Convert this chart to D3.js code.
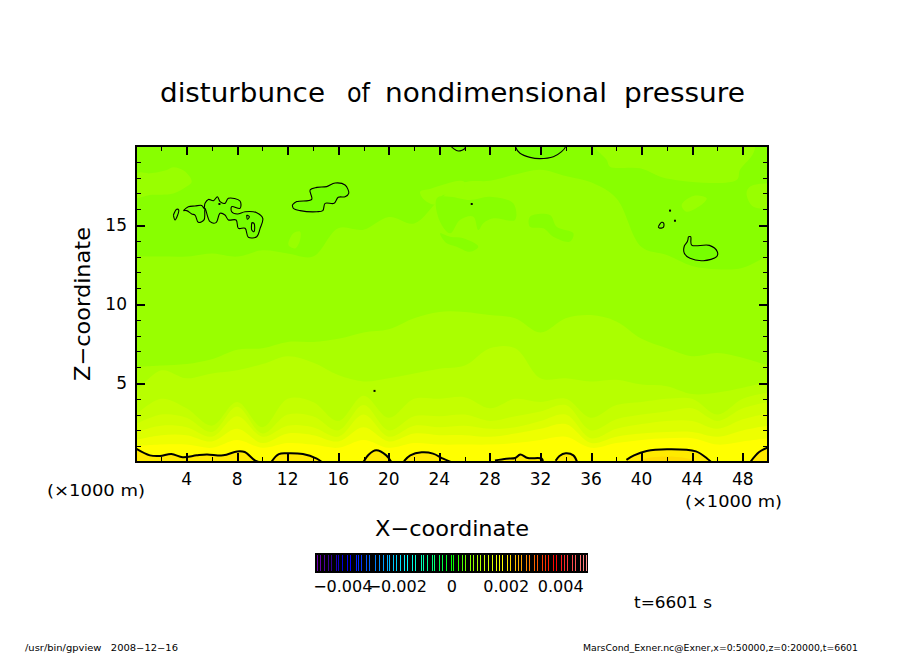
<!DOCTYPE html>
<html><head><meta charset="utf-8">
<script src="https://cdn.jsdelivr.net/npm/d3@7"></script>
<style>html,body{margin:0;padding:0;background:#fff}svg{display:block}text{font-family:"DejaVu Sans",sans-serif;fill:#000}</style>
</head><body><svg id="c" width="904" height="654"></svg>
<script>
// ---- data (x in 1000 m, z in 1000 m) ----
const titleWords = ["disturbunce","of","nondimensional","pressure"];
const xStations = [0,2,4,6,8,10,12,14,16,18,20,22,24,26,28,30,32,34,36,38,40,42,44,46,48,50];
const xMajor = [4,8,12,16,20,24,28,32,36,40,44,48];
const xMinor = [2,6,10,14,18,22,26,30,34,38,42,46,50];
const zMajor = [5,10,15];
const zMinor = [1,2,3,4,6,7,8,9,11,12,13,14,16,17,18,19];
const bandColors = ["#99ff00","#aaff00","#b8ff00","#c4ff00","#d0ff00","#ddff00","#eeff00","#ffff00"];
const band0 = [13.0,13.0,13.0,13.2,13.0,13.4,13.2,13.0,14.8,14.7,15.5,15.1,16.6,17.7,17.8,18.2,18.5,18.1,17.7,16.7,13.6,13.1,12.4,12.2,12.3,13.1];
const band1 = [6.0,6.1,6.2,6.5,7.1,7.2,7.6,7.6,7.8,8.2,8.4,9.1,9.5,9.5,9.3,9.1,8.2,9.1,9.3,8.9,7.8,7.2,6.7,6.9,6.6,6.1];
const band2 = [4.4,5.8,5.3,5.6,5.8,6.2,6.7,6.3,5.5,5.1,5.3,5.6,5.9,6.1,7.2,7.2,5.3,5.3,5.1,5.2,4.9,4.8,4.3,4.4,4.7,5.1];
const band3 = [3.0,4.0,3.4,2.3,3.8,2.2,4.0,3.8,2.6,4.2,2.8,4.0,4.0,4.1,3.4,4.0,3.8,4.0,2.8,3.6,3.8,4.0,4.0,3.0,4.0,4.4];
const band4 = [2.4,3.0,2.8,1.9,3.5,1.8,3.0,2.9,2.0,3.6,2.0,2.9,2.9,3.0,2.6,2.9,3.2,3.6,2.0,2.7,3.0,3.2,3.4,2.6,3.4,3.8];
const band5 = [1.9,2.3,2.2,1.6,2.9,1.6,2.3,2.2,1.6,3.0,1.6,2.3,2.2,2.3,2.1,2.2,2.6,3.0,1.5,2.1,2.4,2.6,2.6,2.1,2.7,3.1];
const band6 = [1.4,1.7,1.7,1.3,2.1,1.2,1.8,1.7,1.3,2.2,1.3,1.8,1.7,1.7,1.6,1.8,2.1,2.4,1.2,1.6,1.8,1.9,1.9,1.6,2.0,2.3];
const band7 = [1.0,1.1,1.1,0.9,1.4,0.9,1.2,1.1,0.9,1.4,0.9,1.2,1.1,1.1,1.1,1.2,1.4,1.6,0.9,1.2,1.4,1.5,1.5,1.1,1.3,1.5];
const lighterIslands = [
 [[-0.47,16.69],[0.1,18.27],[1.1,18.27],[2.43,18.48],[2.96,18.65],[3.88,18.38],[4.41,17.74],[4.01,17.43],[2.96,17.0],[1.1,16.9]],
 [[22.48,17.11],[23.3,17.3],[25.6,17.8],[26,17.7],[25.6,16.8],[24.3,16.9],[23.7,16.3],[22.8,16.6]],
 [[48.58,17.43],[49.9,17.64],[50.4,17.64],[50.4,16.2],[48.84,16.16],[48.3,17.0]],
 [[43.17,16.27],[44.09,16.84],[45.15,16.69],[44.88,16.37],[43.56,15.84]],
 [[36.18,20.2],[37.24,19.11],[37.5,18.69],[39.87,18.59],[41.98,17.95],[47.52,17.85],[47.78,18.48],[48.84,19.54],[48.89,20.2]],
 [[12.06,13.73],[12.45,14.47],[12.98,14.58],[12.98,14.05],[12.59,13.52]]
];
const darkerIslands = [
 [[24.84,16.79],[26.42,16.58],[28.0,16.79],[29.85,16.37],[29.98,15.32],[28.27,15.42],[27.48,15.11],[27.08,14.68],[26.69,15.53],[25.63,15.32],[24.84,14.47],[24.0,15.3],[23.8,16.7]],
 [[31.17,15.53],[32.75,15.63],[33.28,14.89],[34.6,14.47],[34.34,13.95],[33.02,14.26],[32.23,14.79],[31.17,14.89]],
 [[24.06,14.47],[24.84,14.26],[25.9,14.16],[27.08,13.63],[26.42,13.31],[25.37,13.63],[24.5,13.9]]
];
const thinContours = [
 [[12.37,16.27],[12.72,16.48],[13.9,16.62],[13.77,17.22],[14.3,17.38],[15.09,17.43],[15.75,17.66],[16.54,17.53],[16.83,17.0],[16.54,16.79],[16.0,16.75],[15.67,16.37],[14.96,16.37],[14.78,15.91],[14.3,15.84],[12.98,15.91],[12.45,16.05],[12.37,16.27]],
 [[3.75,15.91],[4.14,16.16],[4.67,16.2],[5.2,16.24],[5.38,16.05],[5.46,16.37],[5.73,16.62],[6.12,16.54],[6.44,16.79],[6.65,16.48],[7.04,16.37],[7.31,16.69],[8.23,16.52],[8.23,16.05],[7.57,16.16],[7.57,15.84],[8.02,15.7],[8.63,15.84],[9.55,15.78],[10.03,15.42],[9.82,14.79],[9.55,14.26],[8.89,14.22],[8.63,14.79],[8.1,14.79],[7.92,15.32],[7.31,15.32],[7.04,15.63],[6.65,15.74],[6.33,15.15],[5.86,15.21],[5.46,16.05],[5.38,15.32],[4.93,15.17],[4.67,15.63],[4.41,15.7],[4.01,15.91],[3.75,15.91]],
 [[2.96,15.63],[3.22,15.99],[3.38,15.95],[3.09,15.32],[2.96,15.63]],
 [[9.16,15.15],[9.34,15.1],[9.34,14.58],[9.16,14.68],[9.16,15.15]],
 [[8.76,15.63],[8.97,15.53],[8.81,15.36],[8.76,15.63]],
 [[30.04,20],[30.04,19.92],[30.38,19.54],[31.17,19.28],[31.96,19.2],[33.02,19.32],[33.67,19.64],[33.99,19.96],[33.99,20]],
 [[24.9,20],[25.1,19.85],[25.5,19.68],[26.03,19.85],[26.03,20]],
 [[43.7,14.26],[43.88,14.26],[43.96,13.73],[45.36,13.71],[45.99,13.31],[45.94,13.0],[44.88,12.74],[43.83,12.89],[43.38,13.21],[43.38,13.67],[43.62,13.95],[43.7,14.26]],
 [[41.32,14.89],[41.59,15.17],[41.75,15.11],[41.72,14.85],[41.4,14.81],[41.32,14.89]]
];
const contourDots = [[6.6,16.33],[42.25,15.91],[42.64,15.27],[26.56,16.33],[18.87,4.5]];
const thickContours = [
 [[0,0.85],[1.1,0.42],[1.9,0.38],[2.8,0.5],[3.7,0.3],[4.8,0.42],[5.6,0.48],[6.9,0.42],[8,0.67],[8.6,0.63],[9.4,0.1],[9.7,0]],
 [[10.7,0],[11.3,0.5],[12,0.55],[13.2,0.5],[14.3,0.21],[14.7,0]],
 [[18,0],[18.4,0.46],[19,0.74],[19.8,0.42],[20.2,0]],
 [[21.2,0.05],[21.7,0.42],[22.6,0.61],[23.5,0.53],[24.3,0.21],[24.9,0]],
 [[28.4,0.1],[29.3,0.21],[30,0.25],[30.4,0.48],[31,0.25],[32.1,0.21],[32.2,0]],
 [[33.2,0.08],[33.5,0.38],[34,0.55],[34.6,0.42],[34.9,0]],
 [[38.8,0.13],[39.4,0.42],[40.4,0.7],[42,0.8],[44.3,0.67],[45.2,0.21],[45.5,0]],
 [[48.6,0],[49.3,0.63],[50,0.93]]
];
const deepPatch = [[39.5,0],[40.5,0.25],[42,0.35],[43.5,0.25],[44.5,0]];
const barLevels = [-0.00494,-0.00485,-0.00469,-0.00454,-0.00443,-0.00425,-0.00417,-0.00403,-0.00384,-0.00373,-0.00351,-0.00344,-0.00333,-0.00315,-0.00304,-0.00282,-0.00267,-0.00252,-0.00238,-0.0023,-0.00216,-0.00205,-0.0019,-0.00175,-0.00164,-0.00146,-0.00135,-0.00113,-0.00105,-0.00091,-0.00072,-0.00065,-0.00047,-0.00036,-0.00021,-0.00003,0.00005,0.00023,0.00037,0.00049,0.00067,0.00078,0.00093,0.00104,0.00118,0.00133,0.00148,0.00162,0.00173,0.00184,0.00203,0.00214,0.00232,0.00243,0.00254,0.00272,0.00284,0.00302,0.00313,0.00331,0.00342,0.00353,0.00372,0.00383,0.00401,0.00412,0.00423,0.00441,0.00452,0.00471,0.00482,0.00493];
const barStops = [-0.00494,-0.00443,-0.00403,-0.00373,-0.00282,-0.00164,-0.00072,0,0.0006,0.00111,0.00184,0.0028,0.00379,0.00496];
const barStopColors = ["#7000b0","#300090","#0000e0","#0000ff","#0080ff","#00ffff","#00ff80","#00ff00","#80ff00","#c0ff00","#ffff00","#ff8000","#ff0000","#ff9090"];
const barTicks = [-0.004,-0.002,0,0.002,0.004];
const barTickLabels = ["\u22120.004","\u22120.002","0","0.002","0.004"];

// ---- scales ----
const svg = d3.select("#c");
const x = d3.scaleLinear().domain([0,50]).range([136,768]);
const z = d3.scaleLinear().domain([0,20]).range([462,146]);
const bar = d3.scaleLinear().domain([-0.005,0.005]).range([315.5,588]);
const barColor = d3.scaleLinear().domain(barStops).range(barStopColors);

svg.append("defs").append("clipPath").attr("id","plot").append("rect")
  .attr("x",x(0)).attr("y",z(20)).attr("width",x(50)-x(0)).attr("height",z(0)-z(20));
const plot = svg.append("g").attr("clip-path","url(#plot)");
plot.append("rect").attr("x",x(0)).attr("y",z(20)).attr("width",x(50)-x(0)).attr("height",z(0)-z(20)).attr("fill","#88ff00");

const area = d3.area().x((d,i)=>x(xStations[i])).y0(z(0)).y1(d=>z(d)).curve(d3.curveCatmullRom);
const closed = d3.line().x(d=>x(d[0])).y(d=>z(d[1])).curve(d3.curveCatmullRomClosed);
const open = d3.line().x(d=>x(d[0])).y(d=>z(d[1])).curve(d3.curveCatmullRom.alpha(0.5));

plot.append("path").attr("d",area(band0)).attr("fill",bandColors[0]);
lighterIslands.forEach(p=>plot.append("path").attr("d",closed(p)).attr("fill",bandColors[0]));
darkerIslands.forEach(p=>plot.append("path").attr("d",closed(p)).attr("fill","#88ff00"));
[band1,band2,band3,band4,band5,band6,band7].forEach((b,i)=>
  plot.append("path").attr("d",area(b)).attr("fill",bandColors[i+1]));

const under = d3.area().x(d=>x(d[0])).y0(z(0)).y1(d=>z(d[1])).curve(d3.curveCatmullRom.alpha(0.5));
thickContours.forEach(c=>plot.append("path").attr("d",under(c)).attr("fill","#ffea00"));
plot.append("path").attr("d",under(deepPatch)).attr("fill","#ffdd00");
thinContours.forEach(c=>plot.append("path").attr("d",open(c)).attr("fill","#77ff00").attr("stroke","#000").attr("stroke-width",1.1).attr("fill-rule","evenodd"));
contourDots.forEach(d=>plot.append("rect").attr("x",x(d[0])-1).attr("y",z(d[1])-1).attr("width",2).attr("height",2).attr("fill","#000"));
thickContours.forEach(c=>plot.append("path").attr("d",open(c)).attr("fill","none").attr("stroke","#000").attr("stroke-width",2));

// ---- axes ----
function styleAxis(g){g.select(".domain").remove();g.selectAll("line").attr("stroke","#000").attr("shape-rendering","crispEdges");}
const axes = svg.append("g");
[[d3.axisBottom,462],[d3.axisTop,146]].forEach(([fn,y])=>{
  axes.append("g").attr("transform",`translate(0,${y})`).call(fn(x).tickValues(xMinor).tickSize(-5).tickFormat("")).call(styleAxis);
  axes.append("g").attr("transform",`translate(0,${y})`).call(fn(x).tickValues(xMajor).tickSize(-9).tickFormat("")).call(styleAxis).selectAll("line").attr("stroke-width",2);
});
[[d3.axisLeft,136],[d3.axisRight,768]].forEach(([fn,xx])=>{
  axes.append("g").attr("transform",`translate(${xx},0)`).call(fn(z).tickValues(zMinor).tickSize(-5).tickFormat("")).call(styleAxis);
  axes.append("g").attr("transform",`translate(${xx},0)`).call(fn(z).tickValues(zMajor).tickSize(-9).tickFormat("")).call(styleAxis).selectAll("line").attr("stroke-width",2);
});
svg.append("rect").attr("x",136).attr("y",146).attr("width",632).attr("height",316).attr("fill","none").attr("stroke","#000").attr("stroke-width",2).attr("shape-rendering","crispEdges");

function txt(s,px,py,size,len,anchor){
  const t = svg.append("text").attr("x",px).attr("y",py).attr("font-size",size).attr("text-anchor",anchor||"start").text(s);
  if(len) t.attr("textLength",len).attr("lengthAdjust","spacingAndGlyphs");
  return t;
}
xMajor.forEach(v=>txt(String(v),x(v),485,17,null,"middle"));
zMajor.forEach(v=>txt(String(v),127,z(v)+6,17,null,"end"));
const titleLeft = [160,347,385,624], titleLen = [165,23,222,121];
titleWords.forEach((w,i)=>txt(w,titleLeft[i],102,26,titleLen[i]));
txt("(\u00d71000 m)",47,496,16,98);
txt("(\u00d71000 m)",685,507,16,97);
txt("X\u2212coordinate",375,536,22,154);
svg.append("text").attr("transform","translate(90,381) rotate(-90)").attr("font-size",22).attr("textLength",154).attr("lengthAdjust","spacingAndGlyphs").text("Z\u2212coordinate");
txt("t=6601 s",634,608,15,78);
txt("/usr/bin/gpview   2008\u221212\u221216",25,651,8.5,153).style("white-space","pre");
txt("MarsCond_Exner.nc@Exner,x=0:50000,z=0:20000,t=6601",583,651,8.5,275);

// ---- colour bar ----
svg.append("rect").attr("x",315).attr("y",553).attr("width",273).attr("height",20).attr("fill","#000");
svg.append("g").selectAll("line").data(barLevels).join("line")
  .attr("x1",d=>Math.round(bar(d))+0.5).attr("x2",d=>Math.round(bar(d))+0.5).attr("y1",555).attr("y2",571)
  .attr("stroke",d=>barColor(d)).attr("stroke-width",1);
barTicks.forEach((v,i)=>txt(barTickLabels[i],bar(v),592,16,null,"middle"));
</script></body></html>
